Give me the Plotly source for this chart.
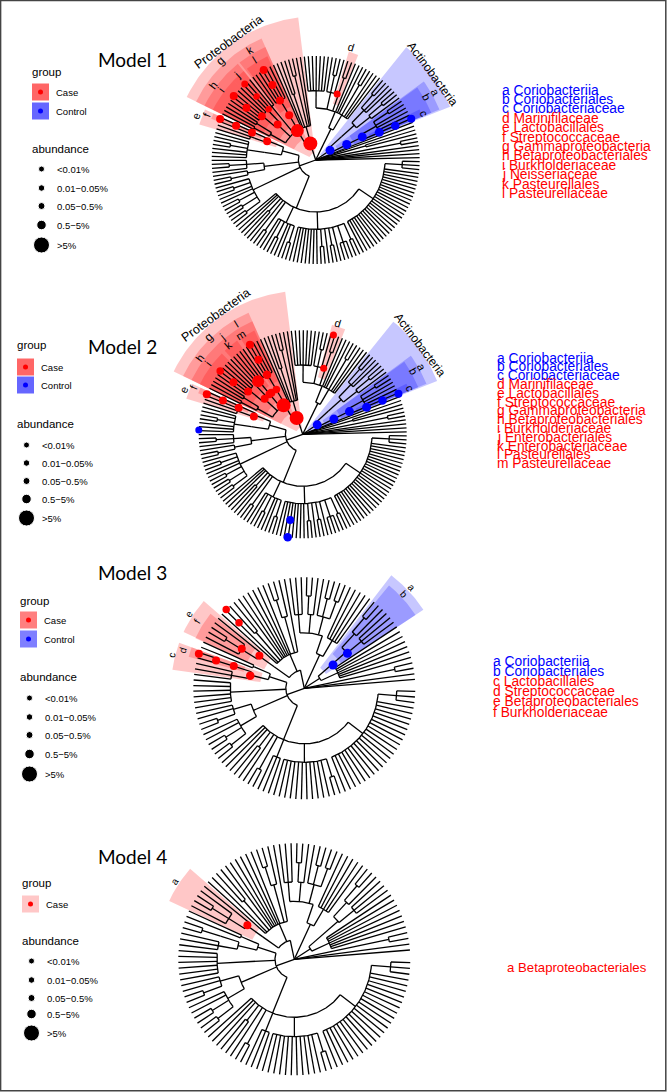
import math
import plotly.graph_objects as go

SANS = "Liberation Sans"
TITLE = "Lato"
RED, BLUE = "#ff0000", "#0000ff"

# ---- taxonomy topologies: int n = genus with n species; list = node one level deeper;
#      (k, list) = node at level k; (k, list, angle) = same, with the stem angle
TREE_A = [
    1, 1, 1, 1, 2, (3, [1, 1]), 1, 1,
    [[[1, [1, 1, 1, 2]]], [[[1, 2], [1, 1, 2]]]],
    (2, [(3, [1, 1, 1, 2, 1, 1, 1]),
         (3, [(4, [2]), (4, [1, 2, 1]), (4, [1, 1, 1, 1, 1, 1, 1])], 68)]),
    (1, [(2, [1, 1, 2, (4, [1, 1]), 1, 1]),
         (2, [[[1, 1, 1, 1, 1]], [[1, 1, 1]], [1, [1, 1, 1, 1, 1]], [[1, 1], [1, 1]]], 122)], 108),
    (1, [[[1, [1, 1, 1]], [[1, 1, 2, 1, 1, 1]]],
         (3, [(4, [1, 2, 1]), (4, [1, 2])]),
         (4, [1, 2, 1, 1, 2, 2, 2]),
         (3, [1, 1, 1, (4, [1, 1]), 1, 2,
              (4, [1, 1, 2, 1, 1, 2]),
              (4, [1, 1, 1, 1, 1, 1, 1, 1, 2, 1, 2, 1, 3, 2]),
              (4, [1, 1, 1, 1, 1, 1, 1, 1, 1, 1, 1, 1, 1, 1, 1, 1, 1, 1, 1, 1, 1, 1, 1, 1, 1, 1, 3])], 248)], 200),
]
TREE_B = [
    1, 1, 2,
    [(2, [1, 1, 1, 1, 1, 1, 1]),
     (3, [(4, [1, 1, 1]), (4, [1, 2])], 41)],
    (2, [(3, [1, 1, 1, 1, 1]),
         (3, [(4, [2, 2, 1]), (4, [1, 2]), (4, [1, 1, 1])], 71)]),
    (1, [(2, [1, (4, [1, 2]), 1, 1, 1, 1, 1, 1, (4, [1, 1]), 1, 1], 113),
         (2, [(3, [1, (4, [1, 2, 1])])])], 102),
    (1, [(2, [(3, [1, 1]), (3, [(4, [2]), (4, [1, 1, 1])])]),
         (4, [1, 1, 1, 1, 1, 1]),
         (3, [(4, [1, 1, 2]), (4, [1, 1, 2, 2])]),
         (3, [1, 1, 1, (4, [1, 1]), 1, 2,
              (4, [1, 1, 1]),
              (4, [1, 1, 1, 1, 1, 1, 1, 1, 1, 1, 1, 2]),
              (4, [1, 1, 1, 1, 1, 1, 1, 1, 1, 1, 1, 1, 1, 1, 1, 1, 1, 1, 1, 1, 1, 3])], 248)], 200),
]

# ---- models: tree centre / radius in page pixels, first-leaf angle, degrees per leaf
CENTERS = {"Model 1": (315.7, 160.0), "Model 2": (302.7, 434.3), "Model 3": (304.3, 688.3), "Model 4": (294.3, 959.3)}
RADII = {"Model 1": 104, "Model 2": 104, "Model 3": 111, "Model 4": 116}
TREES = {"Model 1": TREE_A, "Model 2": TREE_A, "Model 3": TREE_B, "Model 4": TREE_B}
START = {"Model 1": 1.3, "Model 2": 1.3, "Model 3": 4.6, "Model 4": 4.6}
STEP = {"Model 1": 2.209, "Model 2": 2.209, "Model 3": 2.9, "Model 4": 2.9}
LINE_W = {"Model 1": 1.3, "Model 2": 1.3, "Model 3": 1.3, "Model 4": 1.3}

# ---- highlight wedges: angle from, angle to, inner level, outer radius, colour
WEDGES = {
    "Model 1": [(21.6, 51.2, 1, 1.39, BLUE), (22.2, 36, 2, 1.285, BLUE), (22.2, 35.5, 3, 1.2, BLUE), (22.2, 26, 4, 1.11, BLUE),
                (97, 154, 1, 1.38, RED), (114, 154, 2, 1.28, RED), (129, 154, 3, 1.19, RED), (114, 128, 3, 1.19, RED),
                (136, 154, 4, 1.1, RED), (129, 136, 4, 1.1, RED), (115, 127, 4, 1.1, RED),
                (155.5, 163, 3, 1.17, RED), (155.5, 158.5, 4, 1.08, RED), (68, 73, 4, 1.09, RED)],
    "Model 2": [(21.6, 51.2, 1, 1.39, BLUE), (22.2, 36, 2, 1.285, BLUE), (22.2, 35.5, 3, 1.2, BLUE), (22.2, 26, 4, 1.11, BLUE),
                (97, 154, 1, 1.38, RED), (114, 154, 2, 1.28, RED), (133, 154, 3, 1.19, RED), (124, 133, 3, 1.19, RED), (114, 124, 3, 1.19, RED),
                (135, 154, 4, 1.1, RED), (125, 133, 4, 1.1, RED), (115, 123, 4, 1.1, RED),
                (155.5, 163, 3, 1.17, RED), (155.5, 158.5, 4, 1.08, RED), (68, 75, 4, 1.09, RED)],
    "Model 3": [(33.4, 52.4, 2, 1.285, BLUE), (33.4, 50.5, 3, 1.2, BLUE),
                (139, 155, 3, 1.2, RED), (141.5, 155.3, 4, 1.08, RED),
                (160, 172, 3, 1.2, RED), (160, 164.7, 4, 1.08, RED)],
    "Model 4": [(139, 155, 3, 1.19, RED)],
}

# ---- dots: angle, level, diameter, colour
DOTS = {
    "Model 1": [(108, 1, 14, RED), (122, 2, 13, RED), (137, 3, 8, RED), (120.7, 3, 8, RED), (121, 4, 8, RED), (120, 5, 8, RED), (120, 6, 8, RED),
                (141, 4, 8, RED), (132.8, 4, 6.5, RED), (143, 5, 8, RED), (133, 5, 6.5, RED), (142, 6, 8, RED), (133, 6, 7, RED),
                (159, 3, 8, RED), (156.7, 4, 8, RED), (156.7, 5, 8, RED), (156.8, 6, 8, RED), (72, 4, 7, RED),
                (34, 1, 9, BLUE), (26.6, 2, 9, BLUE), (26.4, 3, 9, BLUE), (23.5, 4, 9, BLUE), (23.3, 5, 8.5, BLUE), (23.3, 6, 8, BLUE)],
    "Model 2": [(110.5, 1, 14, RED), (123.4, 2, 14, RED), (130, 4, 12, RED), (137, 3, 8, RED), (129.7, 3, 8, RED), (127, 3, 8, RED), (120.4, 3, 7.5, RED),
                (121, 4, 8.5, RED), (120.7, 5, 8, RED), (120.5, 6, 8, RED), (141.9, 4, 8, RED), (143, 5, 8, RED), (142.5, 6, 7.5, RED),
                (159.9, 3, 8, RED), (157.4, 4, 8, RED), (157, 5, 8, RED), (157.3, 6, 8, RED), (72.4, 4, 7, RED), (72.8, 6, 7, RED),
                (33, 1, 9, BLUE), (26, 2, 9, BLUE), (25.9, 3, 9, BLUE), (22.9, 4, 9, BLUE), (23, 5, 8.5, BLUE), (23, 6, 8, BLUE),
                (177.6, 6, 7, BLUE), (261.7, 5, 8, BLUE), (261.7, 6, 8.5, BLUE)],
    "Model 3": [(39, 2, 9, BLUE), (39, 3, 9, BLUE), (144, 3, 8, RED), (147.7, 4, 8, RED), (134.9, 5, 7.5, RED), (134.7, 6, 7.5, RED),
                (166.8, 3, 8.5, RED), (162.4, 4, 8, RED), (162.5, 5, 8, RED), (161.8, 6, 8, RED)],
    "Model 4": [(144, 3, 8, RED)],
}

# ---- labels around the trees: text, angle, radius
LABELS = {
    "Model 1": [("Proteobacteria", 126.4, 1.41, 12.5), ("Actinobacteria", 36.4, 1.40, 12), ("g", 133.9, 1.325, 12), ("h", 143.8, 1.22, 11), ("i", 143.6, 1.135, 11),
                ("j", 132.9, 1.115, 11), ("k", 121, 1.23, 11), ("l", 121.5, 1.13, 11), ("e", 159.8, 1.225, 11), ("f", 157.6, 1.135, 11),
                ("d", 72.6, 1.135, 11), ("a", 29.6, 1.32, 11), ("b", 29.7, 1.23, 11), ("c", 23.4, 1.13, 11)],
    "Model 2": [("Proteobacteria", 126, 1.42, 12.5), ("Actinobacteria", 37.3, 1.42, 12), ("g", 134, 1.305, 12), ("h", 143.5, 1.23, 11), ("i", 143, 1.135, 11),
                ("j", 129.6, 1.22, 11), ("k", 129.8, 1.12, 11), ("l", 121, 1.24, 11), ("m", 122, 1.13, 11), ("e", 159.6, 1.22, 11), ("f", 156.7, 1.14, 11),
                ("d", 72.6, 1.125, 11), ("a", 29.4, 1.31, 11), ("b", 29.9, 1.23, 11), ("c", 23.2, 1.12, 11)],
    "Model 3": [("a", 43.3, 1.33, 10), ("b", 43.3, 1.235, 10), ("e", 147, 1.234, 10), ("f", 148, 1.144, 10), ("c", 166, 1.236, 10), ("d", 162.4, 1.144, 10)],
    "Model 4": [("a", 147, 1.23, 10)],
}

# ---- taxon lists at the right
TAXA = {
    "Model 1": [("a Coriobacteriia", BLUE), ("b Coriobacteriales", BLUE), ("c Coriobacteriaceae", BLUE), ("d Marinifilaceae", RED),
                ("e Lactobacillales", RED), ("f Streptococcaceae", RED), ("g Gammaproteobacteria", RED), ("h Betaproteobacteriales", RED),
                ("i Burkholderiaceae", RED), ("j Neisseriaceae", RED), ("k Pasteurellales", RED), ("l Pasteurellaceae", RED)],
    "Model 2": [("a Coriobacteriia", BLUE), ("b Coriobacteriales", BLUE), ("c Coriobacteriaceae", BLUE), ("d Marinifilaceae", RED),
                ("e Lactobacillales", RED), ("f Streptococcaceae", RED), ("g Gammaproteobacteria", RED), ("h Betaproteobacteriales", RED),
                ("i Burkholderiaceae", RED), ("j Enterobacteriales", RED), ("k Enterobacteriaceae", RED), ("l Pasteurellales", RED), ("m Pasteurellaceae", RED)],
    "Model 3": [("a Coriobacteriia", BLUE), ("b Coriobacteriales", BLUE), ("c Lactobacillales", RED), ("d Streptococcaceae", RED),
                ("e Betaproteobacteriales", RED), ("f Burkholderiaceae", RED)],
    "Model 4": [("a Betaproteobacteriales", RED)],
}
TAXA_POS = {"Model 1": (500, 90, 9.4, 13.8), "Model 2": (495, 358, 8.8, 13.8), "Model 3": (491, 661, 10.2, 13.8), "Model 4": (505, 967, 10, 13.2)}

# ---- legends
ABUND = ["<0.01%", "0.01\u22120.05%", "0.05\u22120.5%", "0.5\u22125%", ">5%"]
ABUND_SIZE = [6, 6.5, 7, 9.5, 16]
LEGEND = {
    "Model 1": dict(x=32, group_y=72, keys=[("Case", RED, 92, .6), ("Control", BLUE, 111, .6)], ab_y=149, dots=[169, 188, 206, 225, 245]),
    "Model 2": dict(x=17, group_y=345, keys=[("Case", RED, 367, .6), ("Control", BLUE, 385, .6)], ab_y=424, dots=[445, 463, 481, 499, 518]),
    "Model 3": dict(x=20, group_y=601, keys=[("Case", RED, 620, .5), ("Control", BLUE, 639, .5)], ab_y=677, dots=[698, 717, 735, 754, 774]),
    "Model 4": dict(x=22, group_y=883, keys=[("Case", RED, 904, .22)], ab_y=941, dots=[961, 980, 998, 1014, 1033]),
}
TITLES = {"Model 1": (132, 59), "Model 2": (122, 346), "Model 3": (132, 572), "Model 4": (132, 856)}


def tree_xy(tree, cx, cy, R, start, step):
    xs, ys = [], []
    next_leaf = [0]

    def pt(t, lv):
        a = math.radians(t)
        return cx + R * lv / 6 * math.cos(a), cy - R * lv / 6 * math.sin(a)

    def seg(pts):
        for p in pts:
            xs.append(p[0]); ys.append(p[1])
        xs.append(None); ys.append(None)

    def arc(t0, t1, lv):
        k = max(2, int(abs(t1 - t0)) + 2)
        seg([pt(t0 + (t1 - t0) * j / (k - 1), lv) for j in range(k)])

    def leaf():
        t = start + step * next_leaf[0]
        next_leaf[0] += 1
        return t

    def place(item, parent_level):
        if isinstance(item, int):
            if item == 1:
                t = leaf()
                seg([pt(t, parent_level), pt(t, 6)])
                return t
            ts = [leaf() for _ in range(item)]
            for t in ts:
                seg([pt(t, 5), pt(t, 6)])
            arc(ts[0], ts[-1], 5)
            t = sum(ts) / len(ts)
            seg([pt(t, parent_level), pt(t, 5)])
            return t
        anchor = None
        if isinstance(item, tuple):
            lv, kids = item[0], item[1]
            if len(item) == 3:
                anchor = item[2]
        else:
            lv, kids = parent_level + 1, item
        ts = [place(c, lv) for c in kids]
        t = anchor if anchor is not None else sum(ts) / len(ts)
        lo, hi = min(ts + [t]), max(ts + [t])
        if hi > lo:
            arc(lo, hi, lv)
        if lv > parent_level:
            seg([pt(t, parent_level), pt(t, lv)])
        return t

    for child in tree:
        place(child, 0)
    return xs, ys


fig = go.Figure()
ann = []
shapes = []


def text(x, y, s, size, color="#000000", family=SANS, angle=0, anchor="center"):
    ann.append(dict(x=x, y=y, xref="x", yref="y", text=s, showarrow=False, textangle=angle, xanchor=anchor, yanchor="middle",
                    font=dict(family=family, size=size, color=color)))


for m in CENTERS:
    cx, cy = CENTERS[m]
    R = RADII[m]

    def xy(t, r):
        a = math.radians(t)
        return cx + R * r * math.cos(a), cy - R * r * math.sin(a)

    for t0, t1, lv, rout, col in WEDGES[m]:
        rin = max(0.02, (lv - 0.6) / 6)
        k = int(t1 - t0) + 2
        ang = [t0 + (t1 - t0) * j / (k - 1) for j in range(k)]
        pts = [xy(t, rout) for t in ang] + [xy(t, rin) for t in reversed(ang)]
        fill = "rgba(255,0,0,0.22)" if col == RED else "rgba(0,0,255,0.22)"
        fig.add_trace(go.Scatter(x=[p[0] for p in pts], y=[p[1] for p in pts], mode="lines", fill="toself",
                                 fillcolor=fill, line=dict(width=0), hoverinfo="skip", showlegend=False))

    lx, ly = tree_xy(TREES[m], cx, cy, R, START[m], STEP[m])
    fig.add_trace(go.Scatter(x=lx, y=ly, mode="lines", line=dict(color="#000000", width=LINE_W[m]),
                             hoverinfo="skip", showlegend=False))

    d = DOTS[m]
    pts = [xy(t, lv / 6) for t, lv, _, _ in d]
    fig.add_trace(go.Scatter(x=[p[0] for p in pts], y=[p[1] for p in pts], mode="markers",
                             marker=dict(size=[s for _, _, s, _ in d], color=[c for *_, c in d], line=dict(width=0), opacity=1),
                             hoverinfo="skip", showlegend=False))

    for s, t, r, size in LABELS[m]:
        x, y = xy(t, r)
        text(x, y, s, size, angle=90 - t)

    tx, ty = TITLES[m]
    text(tx, ty, m, 19, family=TITLE)

    x0, y0, dy, fs = TAXA_POS[m]
    for i, (s, col) in enumerate(TAXA[m]):
        text(x0, y0 + i * dy, s, fs, color=col, anchor="left")

    L = LEGEND[m]
    text(L["x"] - 2, L["group_y"], "group", 11.5, anchor="left")
    for name, col, y, alpha in L["keys"]:
        rgb = "255,0,0" if col == RED else "0,0,255"
        shapes.append(dict(type="rect", xref="x", yref="y", x0=L["x"], x1=L["x"] + 17, y0=y - 8.5, y1=y + 8.5,
                           fillcolor=f"rgba({rgb},{alpha})", line=dict(width=0), layer="below"))
        text(L["x"] + 22, y, name, 9.5, anchor="left")
    fig.add_trace(go.Scatter(x=[L["x"] + 8.5 for _ in L["keys"]], y=[k[2] for k in L["keys"]], mode="markers",
                             marker=dict(size=5, color=[k[1] for k in L["keys"]], opacity=1), hoverinfo="skip", showlegend=False))
    text(L["x"] - 2, L["ab_y"], "abundance", 11.5, anchor="left")
    fig.add_trace(go.Scatter(x=[L["x"] + 9.5 for _ in ABUND], y=L["dots"], mode="markers",
                             marker=dict(size=ABUND_SIZE, color="#000000", opacity=1), hoverinfo="skip", showlegend=False))
    for s, y in zip(ABUND, L["dots"]):
        text(L["x"] + 23, y, s, 9.5, anchor="left")

# image frame
shapes.append(dict(type="rect", xref="x", yref="y", x0=0.6, x1=665.8, y0=0.4, y1=1090.8, line=dict(color="#444444", width=1.5), fillcolor="rgba(0,0,0,0)"))

fig.update_layout(width=667, height=1092, margin=dict(l=0, r=0, t=0, b=0), paper_bgcolor="white", plot_bgcolor="white",
                  xaxis=dict(range=[0, 667], visible=False, fixedrange=True), yaxis=dict(range=[1092, 0], visible=False, fixedrange=True),
                  annotations=ann, shapes=shapes, showlegend=False)
fig.write_html("out.html", config={"displayModeBar": False}, post_script="document.body.style.margin='0';")
